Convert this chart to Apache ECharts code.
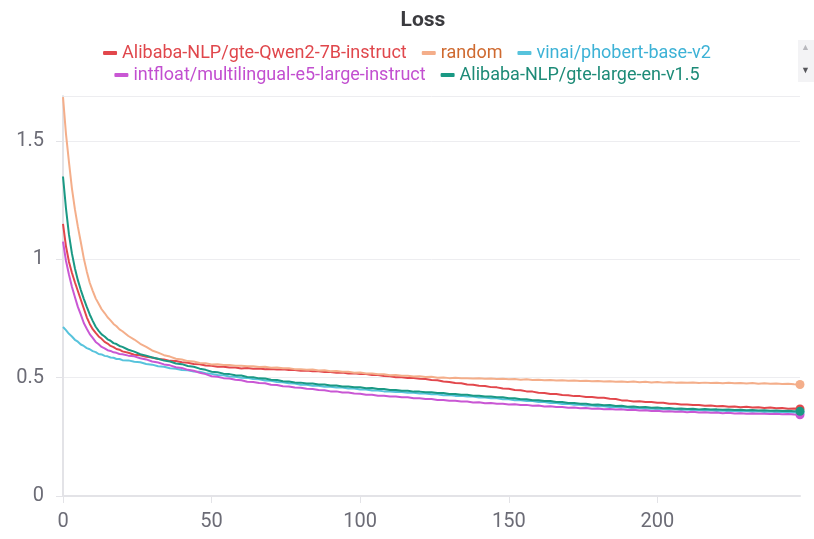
<!DOCTYPE html>
<html>
<head>
<meta charset="utf-8">
<script src="https://cdn.jsdelivr.net/npm/echarts@6/dist/echarts.min.js"></script>
<style>
  html, body { margin: 0; padding: 0; background: #ffffff; }
  #chart { width: 814px; height: 539px; }
</style>
</head>
<body>
<div id="chart"></div>
<script>
// Training steps at which the loss was logged
const steps = [0,1,2,3,4,5,6,7,8,9,10,11,12,13,14,15,16,17,18,19,20,
  22,24,26,28,30,32,34,36,38,40,42,44,46,48,50,52,54,56,58,60,
  62,64,66,68,70,72,74,76,78,80,82,84,86,88,90,92,94,96,98,100,
  102,104,106,108,110,112,114,116,118,120,122,124,126,128,130,
  132,134,136,138,140,142,144,146,148,150,152,154,156,158,160,
  162,164,166,168,170,172,174,176,178,180,182,184,186,188,190,
  192,194,196,198,200,202,204,206,208,210,212,214,216,218,220,
  222,224,226,228,230,232,234,236,238,240,242,244,246,248];

const runNames = [
  'Alibaba-NLP/gte-Qwen2-7B-instruct',
  'random',
  'vinai/phobert-base-v2',
  'intfloat/multilingual-e5-large-instruct',
  'Alibaba-NLP/gte-large-en-v1.5'
];

const lossQwen2 = [1.150,1.055,0.990,0.943,0.903,0.866,0.829,0.792,0.755,0.727,0.705,0.689,0.674,0.664,0.651,0.644,0.634,0.629,0.621,0.618,0.611,
  0.605,0.597,0.595,0.588,0.585, 0.579,0.577,0.571,0.570,0.565, 0.563,0.558,0.557,0.551,0.550,
  0.546,0.546,0.543,0.543,0.539, 0.541,0.538,0.539,0.536,0.537, 0.534,0.535,0.532,0.532,0.529,
  0.530,0.527,0.527,0.524,0.524, 0.521,0.522,0.518,0.519,0.515, 0.515,0.511,0.511,0.507,0.506,
  0.502,0.502,0.499,0.499,0.495, 0.494,0.490,0.489,0.484,0.482, 0.477,0.476,0.471,0.470,0.466,
  0.465,0.460,0.459,0.454,0.453, 0.448,0.447,0.442,0.441,0.436, 0.435,0.431,0.431,0.427,0.426,
  0.422,0.422,0.418,0.418,0.415, 0.415,0.411,0.410,0.404,0.403, 0.399,0.400,0.397,0.397,0.394,
  0.394,0.390,0.390,0.387,0.387, 0.384,0.384,0.381,0.382,0.379, 0.380,0.377,0.378,0.375,0.377,
  0.374,0.375,0.372,0.374,0.371, 0.372,0.369,0.370,0.368];

const lossRandom = [1.685,1.530,1.412,1.300,1.212,1.138,1.072,1.004,0.949,0.901,0.867,0.835,0.812,0.789,0.773,0.755,0.742,0.727,0.717,0.704,0.696,
  0.676,0.661,0.643,0.630,0.615, 0.606,0.595,0.589,0.580,0.577, 0.570,0.568,0.562,0.561,0.556,
  0.557,0.553,0.554,0.550,0.550, 0.548,0.548,0.545,0.546,0.542, 0.543,0.540,0.540,0.536,0.536,
  0.533,0.534,0.530,0.531,0.527, 0.528,0.525,0.525,0.521,0.522, 0.518,0.518,0.514,0.514,0.510,
  0.511,0.508,0.508,0.505,0.506, 0.503,0.504,0.500,0.501,0.498, 0.500,0.497,0.498,0.496,0.497,
  0.495,0.496,0.494,0.495,0.493, 0.494,0.491,0.493,0.490,0.491, 0.489,0.490,0.488,0.489,0.487,
  0.488,0.486,0.487,0.485,0.486, 0.484,0.485,0.483,0.484,0.482, 0.484,0.481,0.483,0.480,0.482,
  0.479,0.481,0.479,0.480,0.478, 0.480,0.477,0.479,0.477,0.478, 0.476,0.478,0.476,0.477,0.475,
  0.477,0.474,0.476,0.474,0.475, 0.473,0.474,0.472,0.471];

const lossPhobert = [0.714,0.701,0.685,0.674,0.660,0.652,0.640,0.634,0.625,0.620,0.612,0.608,0.600,0.598,0.592,0.590,0.585,0.584,0.579,0.579,0.574,
  0.573,0.567,0.565,0.558,0.555, 0.548,0.546,0.540,0.538,0.532, 0.531,0.526,0.525,0.519,0.516,
  0.511,0.510,0.505,0.504,0.500, 0.499,0.494,0.493,0.488,0.487, 0.482,0.481,0.476,0.475,0.470,
  0.470,0.466,0.466,0.462,0.462, 0.458,0.458,0.454,0.454,0.450, 0.450,0.446,0.446,0.442,0.442,
  0.439,0.439,0.436,0.436,0.433, 0.433,0.430,0.430,0.426,0.427, 0.423,0.423,0.420,0.420,0.416,
  0.416,0.413,0.413,0.409,0.409, 0.405,0.405,0.401,0.401,0.397, 0.397,0.393,0.393,0.389,0.390,
  0.386,0.386,0.382,0.382,0.379, 0.379,0.376,0.377,0.374,0.374, 0.371,0.372,0.369,0.370,0.367,
  0.368,0.365,0.366,0.363,0.365, 0.362,0.363,0.361,0.362,0.359, 0.361,0.358,0.360,0.357,0.359,
  0.356,0.358,0.355,0.357,0.354, 0.356,0.353,0.354,0.352];

const lossE5 = [1.075,0.994,0.936,0.884,0.841,0.799,0.766,0.731,0.707,0.684,0.668,0.651,0.641,0.630,0.624,0.616,0.613,0.607,0.605,0.600,0.599,
  0.593,0.590,0.582,0.577,0.568, 0.564,0.556,0.552,0.544,0.541, 0.533,0.529,0.521,0.515,0.506,
  0.504,0.498,0.496,0.491,0.489, 0.483,0.482,0.477,0.476,0.470, 0.469,0.464,0.463,0.458,0.457,
  0.453,0.452,0.448,0.447,0.442, 0.442,0.437,0.437,0.433,0.432, 0.428,0.428,0.424,0.424,0.420,
  0.420,0.417,0.417,0.413,0.413, 0.410,0.410,0.406,0.406,0.402, 0.402,0.399,0.399,0.395,0.396,
  0.392,0.393,0.390,0.390,0.387, 0.388,0.384,0.385,0.381,0.382, 0.378,0.379,0.376,0.376,0.373,
  0.374,0.371,0.372,0.369,0.370, 0.367,0.368,0.365,0.366,0.363, 0.364,0.361,0.362,0.359,0.360,
  0.357,0.358,0.356,0.357,0.354, 0.356,0.353,0.354,0.352,0.353, 0.350,0.352,0.349,0.350,0.348,
  0.349,0.347,0.348,0.346,0.347, 0.345,0.346,0.344,0.343];

const lossGteLarge = [1.350,1.215,1.105,1.025,0.962,0.912,0.870,0.833,0.799,0.767,0.740,0.715,0.698,0.683,0.674,0.662,0.656,0.646,0.642,0.634,0.630,
  0.618,0.610,0.599,0.593,0.585, 0.580,0.572,0.568,0.560,0.557, 0.549,0.546,0.538,0.533,0.525,
  0.523,0.517,0.515,0.510,0.509, 0.503,0.502,0.497,0.496,0.491, 0.490,0.485,0.484,0.480,0.479,
  0.475,0.475,0.471,0.471,0.467, 0.467,0.463,0.463,0.459,0.459, 0.455,0.456,0.452,0.452,0.448,
  0.448,0.445,0.445,0.441,0.441, 0.438,0.438,0.435,0.435,0.431, 0.431,0.428,0.428,0.424,0.424,
  0.420,0.420,0.417,0.417,0.413, 0.413,0.409,0.409,0.405,0.405, 0.401,0.401,0.397,0.397,0.393,
  0.393,0.390,0.390,0.386,0.387, 0.383,0.384,0.380,0.381,0.377, 0.378,0.375,0.376,0.373,0.374,
  0.371,0.372,0.369,0.370,0.368, 0.369,0.366,0.368,0.365,0.366, 0.364,0.365,0.363,0.364,0.362,
  0.363,0.361,0.362,0.360,0.361, 0.359,0.360,0.358,0.358];

const xTicks = [0, 50, 100, 150, 200];
const yTicks = [0, 0.5, 1, 1.5];

const lineColors = ['#e2474c', '#f4ae8a', '#57c3dc', '#c957d4', '#1a9984'];
const legendTextColors = ['#e0474c', '#cf6a30', '#3db2d6', '#c24fd0', '#1d8b77'];

const FONT = 'Roboto, "Noto Sans", sans-serif';

function buildSeries(name, values, color) {
  const data = values.map((v, i) => {
    const item = { value: [steps[i], v] };
    if (i === values.length - 1) {
      item.symbol = 'circle';
      item.symbolSize = 9;
    }
    return item;
  });
  return {
    name: name,
    type: 'line',
    data: data,
    symbol: 'none',
    showSymbol: true,
    smooth: false,
    lineStyle: { width: 2, color: color },
    itemStyle: { color: color },
    emphasis: { disabled: true },
    z: 2
  };
}

const allLoss = [lossQwen2, lossRandom, lossPhobert, lossE5, lossGteLarge];

const legendItem = (i) => ({
  name: runNames[i],
  textStyle: { color: legendTextColors[i] }
});

const legendBase = {
  left: 'center',
  itemWidth: 14,
  itemHeight: 4,
  itemGap: 15,
  icon: 'roundRect',
  textStyle: { fontSize: 18, fontFamily: FONT }
};

const chart = echarts.init(document.getElementById('chart'), null, { renderer: 'canvas' });

chart.setOption({
  animation: false,
  backgroundColor: '#ffffff',
  textStyle: { fontFamily: FONT },
  title: {
    text: 'Loss',
    left: 418,
    textAlign: 'center',
    top: 5,
    textStyle: { fontSize: 21, fontWeight: 'bold', color: '#3b3b3f', fontFamily: FONT }
  },
  legend: [
    Object.assign({ top: 39, data: [legendItem(0), legendItem(1), legendItem(2)] }, legendBase),
    Object.assign({ top: 61, data: [legendItem(3), legendItem(4)] }, legendBase)
  ],
  grid: { left: 63, right: 14, top: 96, bottom: 43, containLabel: false },
  xAxis: {
    type: 'value',
    min: 0,
    max: 248,
    interval: 50,
    axisLine: { show: true, lineStyle: { color: '#e3e3e7', width: 2 } },
    axisTick: { show: true, length: 7, lineStyle: { color: '#e3e3e7' } },
    splitLine: { show: false },
    axisLabel: {
      showMaxLabel: false,
      margin: 16,
      fontSize: 20,
      color: '#6c6c76',
      fontFamily: FONT,
      formatter: (v) => (xTicks.indexOf(v) >= 0 ? String(v) : '')
    }
  },
  yAxis: {
    type: 'value',
    min: 0,
    max: 1.69,
    interval: 0.5,
    axisLine: { show: true, lineStyle: { color: '#e3e3e7', width: 2 } },
    axisTick: { show: true, length: 7, lineStyle: { color: '#e3e3e7' } },
    splitLine: { show: true, lineStyle: { color: '#ededf0', width: 1 } },
    axisLabel: {
      showMaxLabel: false,
      margin: 19,
      fontSize: 20,
      color: '#6c6c76',
      fontFamily: FONT,
      formatter: (v) => (yTicks.indexOf(v) >= 0 ? String(v) : '')
    }
  },
  graphic: [
    { type: 'rect', left: 798, top: 40, shape: { width: 16, height: 42 }, style: { fill: '#f3f3f5' }, silent: true },
    { type: 'text', left: 801, top: 43, style: { text: '▲', fontSize: 9, fill: '#b8b8bd' }, silent: true },
    { type: 'text', left: 801, top: 66, style: { text: '▼', fontSize: 9, fill: '#55555a' }, silent: true }
  ],
  series: allLoss.map((vals, i) => buildSeries(runNames[i], vals, lineColors[i]))
});
</script>
</body>
</html>
